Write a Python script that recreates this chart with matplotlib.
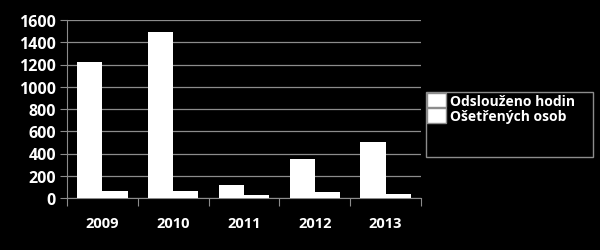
import numpy as np
import matplotlib.pyplot as plt
from matplotlib.patches import Patch, Rectangle

years = ['2009', '2010', '2011', '2012', '2013']
hodin = [1225, 1495, 115, 350, 500]
osob = [60, 65, 30, 50, 40]
series_names = ['Odslouženo hodin', 'Ošetřených osob']

plt.rcParams['font.family'] = ['Open Sans', 'DejaVu Sans']
plt.rcParams['font.weight'] = 'bold'

fig = plt.figure(figsize=(6, 2.51), dpi=100, facecolor='black')
ax = fig.add_axes([67 / 600, 1 - 199 / 251, 354 / 600, 178 / 251], facecolor='black')

x = np.arange(len(years))
w = 0.355
ax.bar(x - w / 2, hodin, w, color='white', zorder=3)
ax.bar(x + w / 2, osob, w, color='white', zorder=3)

ax.set_xlim(-0.5, len(years) - 0.5)
ax.set_ylim(0, 1600)
ax.set_yticks(range(0, 1601, 200))
ax.yaxis.grid(True, color='#8c8c8c', linewidth=0.9, zorder=0)

# category separators on x axis
ax.set_xticks(np.arange(-0.5, len(years) - 0.4, 1))
ax.set_xticklabels([])
ax.set_xticks(x, minor=True)
ax.set_xticklabels(years, minor=True)
ax.tick_params(axis='x', which='major', length=6, color='#8c8c8c', direction='out')
ax.tick_params(axis='x', which='minor', length=0, pad=13, colors='white', labelsize=10.5)
ax.tick_params(axis='y', length=5, colors='white', labelsize=11.5, pad=3)
ax.tick_params(axis='y', color='#8c8c8c')

for s in ['top', 'right']:
    ax.spines[s].set_visible(False)
for s in ['left', 'bottom']:
    ax.spines[s].set_color('#8c8c8c')

# legend frame, drawn larger than the entries as in the original
fig.patches.append(Rectangle((426 / 600, 1 - 158 / 251), 167 / 600, 65 / 251,
                             transform=fig.transFigure, facecolor='black',
                             edgecolor='#8c8c8c', linewidth=1))
handles = [Patch(facecolor='white', edgecolor='#8c8c8c', label=n) for n in series_names]
leg = fig.legend(handles=handles, loc='upper left', bbox_to_anchor=(426 / 600, 1 - 93 / 251),
                 frameon=False, labelcolor='white', fontsize=10, handlelength=1.4,
                 handleheight=1.25, handletextpad=0.25, labelspacing=0.05,
                 borderpad=0.05, borderaxespad=0)

fig.savefig('out.png', dpi=100, facecolor='black')
